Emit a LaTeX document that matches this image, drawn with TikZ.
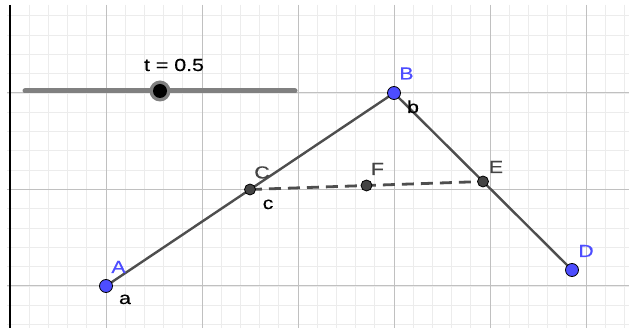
\documentclass[tikz,border=0pt]{standalone}
\usepackage{fontspec}
\setmainfont{Liberation Sans}
\newfontfamily\lblfont[FakeStretch=1.22,FakeBold=0.3]{Liberation Sans}
\definecolor{ptblue}{RGB}{77,77,255}
\definecolor{depcol}{RGB}{68,68,68}
\definecolor{segcol}{RGB}{78,78,78}
\definecolor{minorcol}{RGB}{236,236,236}
\definecolor{majorcol}{RGB}{192,192,192}
\definecolor{slidercol}{RGB}{128,128,128}
\begin{document}
\begin{tikzpicture}[x=1pt,y=-1pt,
  minor/.style={draw=minorcol, line width=0.9pt},
  major/.style={draw=majorcol, line width=1pt},
  seg/.style={draw=segcol, line width=2.4pt},
  dseg/.style={draw=segcol, line width=2.8pt, dash pattern=on 12pt off 7pt},
  freept/.style={circle, fill=ptblue, draw=black, line width=0.8pt, inner sep=0pt, minimum size=13pt},
  deppt/.style={circle, fill=depcol, draw=black, line width=0.8pt, inner sep=0pt, minimum size=11pt},
  lbl/.style={font=\lblfont\fontsize{17.5}{20}\selectfont, inner sep=0pt, anchor=base},
]
\useasboundingbox (0,0) rectangle (629,328);
\fill[white] (0,0) rectangle (629,328);
% minor grid
\foreach \i in {1,...,32} { \draw[minor] ({10+19.2*\i},5) -- ({10+19.2*\i},328); }
\foreach \k in {-2,...,14} { \draw[minor] (7,{286-19.3*\k}) -- (629,{286-19.3*\k}); }
% major grid
\foreach \i in {1,...,6} { \draw[major] ({10+96*\i},5) -- ({10+96*\i},328); }
\foreach \j in {0,1,2} { \draw[major] (7,{286-96.5*\j}) -- (629,{286-96.5*\j}); }
% y axis
\draw[black, line width=1.6pt] (10,5) -- (10,328);

% slider
\coordinate (sl) at (25,91);
\coordinate (sr) at (295,91);
\draw[draw=slidercol, line width=5pt, line cap=round] (sl) -- (sr);
\node[circle, fill=slidercol, inner sep=0pt, minimum size=21pt] (knobring) at (160,91) {};
\node[circle, fill=black, inner sep=0pt, minimum size=14pt] (knob) at (knobring.center) {};
\node[lbl] (tlabel) at (174,71) {t = 0.5};

% point positions
\coordinate (pA) at (106,286);
\coordinate (pB) at (394,93);
\coordinate (pD) at (572,270);
\coordinate (pC) at (250,189.5);
\coordinate (pE) at (483,181.5);
\coordinate (pF) at (366.5,185.5);

% segments
\draw[seg] (pA) -- (pB);
\draw[seg] (pB) -- (pD);
\draw[dseg] (pC) -- (pE);

% points
\node[freept] (A) at (pA) {};
\node[freept] (B) at (pB) {};
\node[freept] (D) at (pD) {};
\node[deppt] (C) at (pC) {};
\node[deppt] (E) at (pE) {};
\node[deppt] (F) at (pF) {};

% labels
\node[lbl, text=ptblue] (lA) at (118.5,273) {A};
\node[lbl, text=ptblue] (lB) at (406.5,79.5) {B};
\node[lbl, text=ptblue] (lD) at (586,257) {D};
\node[lbl, text=depcol] (lC) at (262,178.5) {C};
\node[lbl, text=depcol] (lE) at (496,173) {E};
\node[lbl, text=depcol] (lF) at (377.5,175) {F};
\node[lbl] (la) at (125,304) {a};
\node[lbl] (lb) at (413,113) {b};
\node[lbl] (lc) at (268,209) {c};
\end{tikzpicture}
\end{document}
